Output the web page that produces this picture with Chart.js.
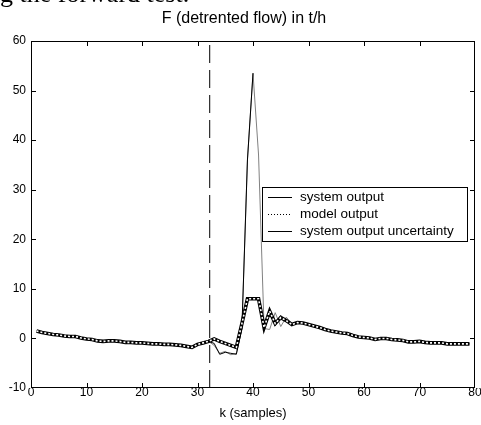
<!DOCTYPE html>
<html><head><meta charset="utf-8">
<script src="https://cdn.jsdelivr.net/npm/chart.js@4/dist/chart.umd.min.js"></script>
<style>
html,body{margin:0;padding:0;background:#fff;width:481px;height:425px;overflow:hidden;position:relative}
#wrap{position:absolute;left:0;top:0;width:481px;height:425px}
#doc{position:absolute;left:0;top:-19px;font-family:"Liberation Serif","Times New Roman",serif;font-size:26px;line-height:26px;white-space:nowrap;color:#000}
</style></head><body>
<div id="wrap"><canvas id="c" width="481" height="425"></canvas></div>
<div id="doc">g the forward test.</div>
<script>
const titleText = 'F (detrented flow) in t/h';
const xTitle = 'k (samples)';
const legendLabels = ['system output', 'model output', 'system output uncertainty'];
const xTicks = [0, 10, 20, 30, 40, 50, 60, 70, 80];
const yTicks = [-10, 0, 10, 20, 30, 40, 50, 60];
const changePoint = 32.2;

const samples = [1,2,3,4,5,6,7,8,9,10,11,12,13,14,15,16,17,18,19,20,
  21,22,23,24,25,26,27,28,29,30,31,32,33,34,35,36,37,38,39,40,
  41,42,43,44,45,46,47,48,49,50,51,52,53,54,55,56,57,58,59,60,
  61,62,63,64,65,66,67,68,69,70,71,72,73,74,75,76,77,78,79];

const modelOutput = [1.5,1.2,1.0,0.8,0.7,0.5,0.4,0.4,0.1,-0.1,
  -0.2,-0.5,-0.6,-0.5,-0.5,-0.6,-0.8,-0.8,-0.9,-0.9,
  -1.0,-1.1,-1.1,-1.2,-1.2,-1.3,-1.4,-1.6,-1.8,-1.2,
  -0.9,-0.6,-0.1,-0.6,-1.0,-1.4,-1.8,3.0,8.0,8.0,
  8.0,2.2,5.5,3.0,4.2,3.6,2.8,3.2,3.1,2.8,
  2.5,2.2,1.8,1.5,1.3,1.1,1.0,0.6,0.3,0.2,
  0.1,-0.2,0.0,0.0,-0.2,-0.3,-0.4,-0.7,-0.7,-0.6,
  -0.8,-0.9,-0.9,-0.9,-1.1,-1.1,-1.1,-1.1,-1.1];

const systemOutput = [1.5,1.2,1.0,0.8,0.7,0.5,0.4,0.4,0.1,-0.1,
  -0.2,-0.5,-0.6,-0.5,-0.5,-0.6,-0.8,-0.8,-0.9,-0.9,
  -1.0,-1.1,-1.1,-1.2,-1.2,-1.3,-1.4,-1.6,-1.8,-1.2,
  -0.9,-0.6,-1.0,-3.2,-2.8,-3.0,-3.2,2.0,36.0,53.5,
  37.0,2.0,5.8,2.6,4.6,3.4,2.8,3.2,3.1,2.8,
  2.5,2.2,1.8,1.5,1.3,1.1,1.0,0.6,0.3,0.2,
  0.1,-0.2,0.0,0.0,-0.2,-0.3,-0.4,-0.7,-0.7,-0.6,
  -0.8,-0.9,-0.9,-0.9,-1.1,-1.1,-1.1,-1.1,-1.1];

const uncertainty = [1.5,1.2,1.0,0.8,0.7,0.5,0.4,0.4,0.1,-0.1,
  -0.2,-0.5,-0.6,-0.5,-0.5,-0.6,-0.8,-0.8,-0.9,-0.9,
  -1.0,-1.1,-1.1,-1.2,-1.2,-1.3,-1.4,-1.6,-1.8,-1.2,
  -0.9,-0.6,-1.4,-3.0,-2.6,-3.3,-3.0,2.0,36.0,53.5,
  37.0,2.0,1.8,5.2,2.4,4.3,2.9,3.2,3.1,2.8,
  2.5,2.2,1.8,1.5,1.3,1.1,1.0,0.6,0.3,0.2,
  0.1,-0.2,0.0,0.0,-0.2,-0.3,-0.4,-0.7,-0.7,-0.6,
  -0.8,-0.9,-0.9,-0.9,-1.1,-1.1,-1.1,-1.1,-1.1];

const FONT = '"Liberation Sans", Arial, Helvetica, sans-serif';
const toPts = (ys) => samples.map((k, i) => ({x: k, y: ys[i]}));
const yMin = yTicks[0], yMax = yTicks[yTicks.length - 1];

const framePlugin = {
  id: 'frame',
  afterDraw(chart) {
    const {ctx, chartArea: a, scales} = chart;
    ctx.save();
    ctx.strokeStyle = '#000';
    ctx.lineWidth = 1;
    ctx.setLineDash([]);
    ctx.strokeRect(Math.round(a.left) + 0.5, Math.round(a.top) + 0.5,
      Math.round(a.right - a.left) - 1, Math.round(a.bottom - a.top) - 1);
    const tl = 5;
    ctx.beginPath();
    xTicks.slice(1, -1).forEach(v => {
      const px = Math.round(scales.x.getPixelForValue(v)) + 0.5;
      ctx.moveTo(px, a.bottom); ctx.lineTo(px, a.bottom - tl);
      ctx.moveTo(px, a.top); ctx.lineTo(px, a.top + tl);
    });
    yTicks.slice(1, -1).forEach(v => {
      const py = Math.round(scales.y.getPixelForValue(v)) + 0.5;
      ctx.moveTo(a.left, py); ctx.lineTo(a.left + tl, py);
      ctx.moveTo(a.right, py); ctx.lineTo(a.right - tl, py);
    });
    ctx.stroke();

    // title
    ctx.fillStyle = '#000';
    ctx.font = '16px ' + FONT;
    ctx.textAlign = 'center';
    ctx.textBaseline = 'middle';
    ctx.fillText(titleText, 244, 19);

    // legend
    const lx = Math.round(a.right) - 213, ly = 187, lw = 205, lh = 54;
    ctx.fillStyle = '#fff';
    ctx.fillRect(lx, ly, lw, lh);
    ctx.strokeStyle = '#000';
    ctx.strokeRect(lx + 0.5, ly + 0.5, lw, lh);
    const rows = [197, 214, 231];
    const dashes = [[], [1, 2], []];
    ctx.font = '13.5px ' + FONT;
    ctx.textAlign = 'left';
    rows.forEach((ry, i) => {
      ctx.beginPath();
      ctx.setLineDash(dashes[i]);
      ctx.moveTo(lx + 6, ry + 0.5); ctx.lineTo(lx + 30, ry + 0.5);
      ctx.stroke();
      ctx.setLineDash([]);
      ctx.fillStyle = '#000';
      ctx.fillText(legendLabels[i], lx + 38, ry);
    });
    ctx.restore();
  }
};

new Chart(document.getElementById('c'), {
  type: 'line',
  data: {
    datasets: [
      {label: 'model dots', data: toPts(modelOutput), borderColor: '#fff', borderWidth: 1.6, borderDash: [2, 2], pointRadius: 0, order: 0, tension: 0},
      {label: legendLabels[1], data: toPts(modelOutput), borderColor: '#000', borderWidth: 3.6, pointRadius: 0, order: 1, tension: 0},
      {label: 'change', data: [{x: changePoint, y: yMin}, {x: changePoint, y: yMax}], borderColor: '#000', borderWidth: 1, borderDash: [18, 7], pointRadius: 0, order: 2},
      {label: legendLabels[0], data: toPts(systemOutput), borderColor: '#000', borderWidth: 1, pointRadius: 0, order: 3, tension: 0,
        segment: {borderColor: c => (c.p0.parsed.x >= 40 && c.p1.parsed.x <= 42) ? 'rgba(0,0,0,0)' : undefined}},
      {label: legendLabels[2], data: toPts(uncertainty), borderColor: '#808080', borderWidth: 1, pointRadius: 0, order: 4, tension: 0}
    ]
  },
  options: {
    responsive: false,
    animation: false,
    devicePixelRatio: 1,
    layout: {padding: {top: 41, right: 6, left: 0, bottom: 0}},
    plugins: {legend: {display: false}, tooltip: {enabled: false}, title: {display: false}},
    scales: {
      x: {
        type: 'linear', min: xTicks[0], max: xTicks[xTicks.length - 1],
        afterBuildTicks: s => { s.ticks = xTicks.map(v => ({value: v})); },
        ticks: {color: '#000', font: {family: FONT, size: 12}, padding: -3, maxRotation: 0, autoSkip: false},
        grid: {display: false, drawTicks: false},
        border: {display: false},
        title: {display: true, text: xTitle, color: '#000', font: {family: FONT, size: 13}, padding: {top: 0, bottom: 4}},
        afterFit: s => { s.height = 37; }
      },
      y: {
        min: yMin, max: yMax,
        afterBuildTicks: s => { s.ticks = yTicks.map(v => ({value: v})); },
        ticks: {color: '#000', font: {family: FONT, size: 12}, padding: 5},
        grid: {display: false, drawTicks: false},
        border: {display: false},
        afterFit: s => { s.width = 31; }
      }
    }
  },
  plugins: [framePlugin]
});
</script>
</body></html>
